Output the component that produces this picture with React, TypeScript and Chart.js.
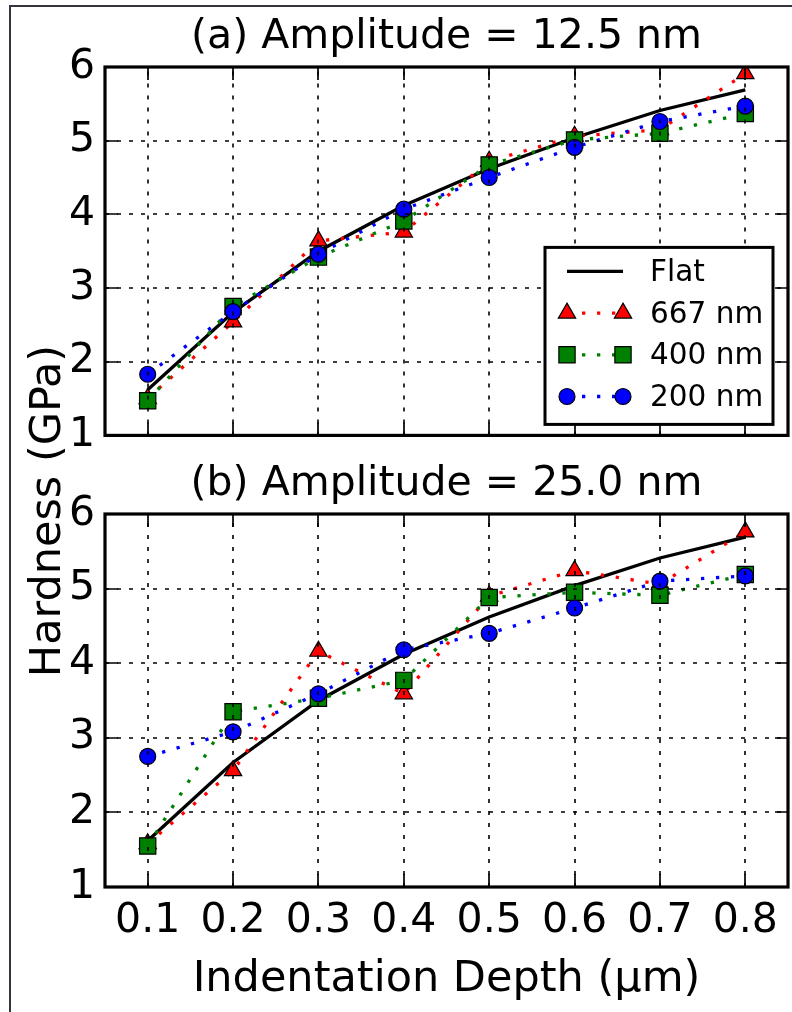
import React, { useEffect, useRef } from 'react';
import { Chart, registerables } from 'chart.js';

Chart.register(...registerables);

// ---------- data ----------
const DEPTHS = [0.1, 0.2, 0.3, 0.4, 0.5, 0.6, 0.7, 0.8];
const X_TICK_LABELS = ['0.1', '0.2', '0.3', '0.4', '0.5', '0.6', '0.7', '0.8'];
const Y_TICKS = [1, 2, 3, 4, 5, 6];
const Y_TICK_LABELS = ['1', '2', '3', '4', '5', '6'];

const SERIES_LABELS = ['Flat', '667 nm', '400 nm', '200 nm'];

const FLAT = [1.62, 2.67, 3.5, 4.12, 4.62, 5.04, 5.41, 5.69];

const A_667 = [1.5, 2.54, 3.64, 3.76, 4.72, 5.06, 5.15, 5.91];
const A_400 = [1.47, 2.75, 3.42, 3.91, 4.67, 5.01, 5.1, 5.37];
const A_200 = [1.83, 2.68, 3.46, 4.07, 4.5, 4.91, 5.26, 5.47];

const B_667 = [1.58, 2.56, 4.16, 3.59, 4.9, 5.24, 5.06, 5.76];
const B_400 = [1.55, 3.35, 3.53, 3.77, 4.88, 4.95, 4.91, 5.19];
const B_200 = [2.75, 3.08, 3.59, 4.18, 4.4, 4.74, 5.1, 5.17];

const TITLE_A = '(a) Amplitude = 12.5 nm';
const TITLE_B = '(b) Amplitude = 25.0 nm';
const X_TITLE = 'Indentation Depth (\u03bcm)';
const Y_TITLE = 'Hardness (GPa)';

const FONT = '"DejaVu Sans", "Liberation Sans", sans-serif';

// ---------- helpers ----------
function drawMarker(ctx: CanvasRenderingContext2D, style: string, x: number, y: number, r: number, fill: string, stroke: string, bw: number) {
  ctx.beginPath();
  if (style === 'circle') {
    ctx.arc(x, y, r, 0, Math.PI * 2);
  } else if (style === 'triangle') {
    for (let k = 0; k < 3; k++) {
      const a = (k * 2 * Math.PI) / 3;
      const px = x + Math.sin(a) * r;
      const py = y - Math.cos(a) * r;
      if (k === 0) ctx.moveTo(px, py);
      else ctx.lineTo(px, py);
    }
    ctx.closePath();
  } else {
    const s = r * Math.SQRT1_2;
    ctx.rect(x - s, y - s, 2 * s, 2 * s);
  }
  ctx.fillStyle = fill;
  ctx.fill();
  ctx.lineWidth = bw;
  ctx.strokeStyle = stroke;
  ctx.stroke();
}

const mplAxesPlugin = {
  id: 'mplAxes',
  afterDatasetsDraw(chart: any) {
    const { ctx, chartArea } = chart;
    const { left, right, top, bottom } = chartArea;
    const xs = chart.scales.x;
    const ys = chart.scales.y;
    ctx.save();
    // dotted grid (drawn above data, like matplotlib classic)
    ctx.strokeStyle = '#000';
    ctx.lineWidth = 1.6;
    ctx.setLineDash([4, 8]);
    xs.ticks.forEach((t: any) => {
      const px = Math.round(xs.getPixelForValue(t.value));
      ctx.beginPath();
      ctx.moveTo(px, bottom);
      ctx.lineTo(px, top);
      ctx.stroke();
    });
    ys.ticks.forEach((t: any) => {
      const py = Math.round(ys.getPixelForValue(t.value));
      ctx.beginPath();
      ctx.moveTo(left, py);
      ctx.lineTo(right, py);
      ctx.stroke();
    });
    ctx.setLineDash([]);
    // inward tick marks on all sides
    const TL = 13;
    ctx.lineWidth = 1.7;
    xs.ticks.forEach((t: any) => {
      const px = Math.round(xs.getPixelForValue(t.value));
      ctx.beginPath();
      ctx.moveTo(px, bottom);
      ctx.lineTo(px, bottom - TL);
      ctx.moveTo(px, top);
      ctx.lineTo(px, top + TL);
      ctx.stroke();
    });
    ys.ticks.forEach((t: any) => {
      const py = Math.round(ys.getPixelForValue(t.value));
      ctx.beginPath();
      ctx.moveTo(left, py);
      ctx.lineTo(left + TL, py);
      ctx.moveTo(right, py);
      ctx.lineTo(right - TL, py);
      ctx.stroke();
    });
    // frame
    ctx.lineWidth = 3.2;
    ctx.strokeRect(left, top, right - left, bottom - top);
    ctx.restore();
  },
};

const mplLegendPlugin = {
  id: 'mplLegend',
  afterDraw(chart: any) {
    const { ctx, chartArea } = chart;
    const w = 228;
    const h = 177;
    const bx = chartArea.right - 15 - w;
    const by = chartArea.bottom - 11 - h;
    ctx.save();
    ctx.fillStyle = '#fff';
    ctx.fillRect(bx, by, w, h);
    ctx.lineWidth = 3;
    ctx.strokeStyle = '#000';
    ctx.strokeRect(bx, by, w, h);
    chart.data.datasets.forEach((ds: any, i: number) => {
      const y = by + 24 + i * 41.7;
      const x1 = bx + 22;
      const x2 = bx + 78;
      ctx.setLineDash(ds.borderDash || []);
      ctx.lineWidth = ds.borderWidth;
      ctx.strokeStyle = ds.borderColor;
      ctx.lineCap = 'butt';
      ctx.beginPath();
      ctx.moveTo(x1, y);
      ctx.lineTo(x2, y);
      ctx.stroke();
      ctx.setLineDash([]);
      if (ds.pointRadius > 0) {
        drawMarker(ctx, ds.pointStyle, x1, y, ds.pointRadius, ds.pointBackgroundColor, ds.pointBorderColor, ds.pointBorderWidth);
        drawMarker(ctx, ds.pointStyle, x2, y, ds.pointRadius, ds.pointBackgroundColor, ds.pointBorderColor, ds.pointBorderWidth);
      }
      ctx.fillStyle = '#000';
      ctx.font = `29.5px ${FONT}`;
      ctx.textBaseline = 'middle';
      ctx.textAlign = 'left';
      ctx.fillText(ds.label, bx + 105, y + 2);
    });
    ctx.restore();
  },
};

function makeDatasets(s667: number[], s400: number[], s200: number[]) {
  const pts = (arr: number[]) => arr.map((v, i) => ({ x: DEPTHS[i], y: v }));
  const dotted = [3.3, 11.7];
  return [
    {
      label: SERIES_LABELS[0],
      data: pts(FLAT),
      borderColor: '#000000',
      borderWidth: 3.3,
      pointRadius: 0,
      order: 4,
    },
    {
      label: SERIES_LABELS[1],
      data: pts(s667),
      borderColor: '#ff0000',
      borderWidth: 3.3,
      borderDash: dotted,
      pointStyle: 'triangle',
      pointRadius: 10,
      pointBackgroundColor: '#ff0000',
      pointBorderColor: '#000000',
      pointBorderWidth: 1.2,
      order: 3,
    },
    {
      label: SERIES_LABELS[2],
      data: pts(s400),
      borderColor: '#008000',
      borderWidth: 3.3,
      borderDash: dotted,
      pointStyle: 'rect',
      pointRadius: 11.5,
      pointBackgroundColor: '#008000',
      pointBorderColor: '#000000',
      pointBorderWidth: 1.2,
      order: 2,
    },
    {
      label: SERIES_LABELS[3],
      data: pts(s200),
      borderColor: '#0000ff',
      borderWidth: 3.3,
      borderDash: dotted,
      pointStyle: 'circle',
      pointRadius: 8,
      pointBackgroundColor: '#0000ff',
      pointBorderColor: '#000000',
      pointBorderWidth: 1.2,
      order: 1,
    },
  ];
}

function makeConfig(opts: {
  title: string;
  titlePadTop: number;
  datasets: any[];
  xAxisHeight: number;
  showXLabels: boolean;
  legend: boolean;
}): any {
  return {
    type: 'line',
    data: { datasets: opts.datasets },
    options: {
      responsive: false,
      maintainAspectRatio: false,
      devicePixelRatio: 1,
      animation: false,
      events: [],
      layout: { autoPadding: false, padding: { left: 0, right: 4, top: 0, bottom: 0 } },
      elements: { line: { tension: 0 } },
      plugins: {
        legend: { display: false },
        tooltip: { enabled: false },
        title: {
          display: true,
          text: opts.title,
          fullSize: false,
          color: '#000',
          font: { family: FONT, size: 41, weight: 'normal', lineHeight: 1.2 },
          padding: { top: opts.titlePadTop, bottom: 4.7 },
        },
      },
      scales: {
        x: {
          type: 'linear',
          min: 0.05,
          max: 0.85,
          afterBuildTicks: (s: any) => {
            s.ticks = DEPTHS.map((v) => ({ value: v }));
          },
          afterFit: (s: any) => {
            s.height = opts.xAxisHeight;
          },
          grid: { display: false, drawTicks: false },
          border: { display: false },
          ticks: {
            display: opts.showXLabels,
            autoSkip: false,
            maxRotation: 0,
            minRotation: 0,
            padding: 10,
            color: '#000',
            font: { family: FONT, size: 41 },
            callback: (_v: any, i: number) => X_TICK_LABELS[i],
          },
          title: {
            display: opts.showXLabels,
            text: X_TITLE,
            color: '#000',
            font: { family: FONT, size: 43 },
            padding: { top: 0, bottom: 6 },
          },
        },
        y: {
          type: 'linear',
          min: 1,
          max: 6,
          afterBuildTicks: (s: any) => {
            s.ticks = Y_TICKS.map((v) => ({ value: v }));
          },
          afterFit: (s: any) => {
            s.width = 105;
          },
          grid: { display: false, drawTicks: false },
          border: { display: false },
          ticks: {
            padding: 10,
            color: '#000',
            font: { family: FONT, size: 41 },
            callback: (_v: any, i: number) => Y_TICK_LABELS[i],
          },
        },
      },
    },
    plugins: opts.legend ? [mplAxesPlugin, mplLegendPlugin] : [mplAxesPlugin],
  };
}

export default function App() {
  const topRef = useRef<HTMLCanvasElement | null>(null);
  const botRef = useRef<HTMLCanvasElement | null>(null);

  useEffect(() => {
    const top = new Chart(
      topRef.current as HTMLCanvasElement,
      makeConfig({
        title: TITLE_A,
        titlePadTop: 13.1,
        datasets: makeDatasets(A_667, A_400, A_200),
        xAxisHeight: 32,
        showXLabels: false,
        legend: true,
      })
    );
    const bot = new Chart(
      botRef.current as HTMLCanvasElement,
      makeConfig({
        title: TITLE_B,
        titlePadTop: 10.1,
        datasets: makeDatasets(B_667, B_400, B_200),
        xAxisHeight: 125,
        showXLabels: true,
        legend: false,
      })
    );
    return () => {
      top.destroy();
      bot.destroy();
    };
  }, []);

  return (
    <div
      style={{
        position: 'fixed',
        left: 0,
        top: 0,
        width: 792,
        height: 1012,
        background: '#fff',
        overflow: 'hidden',
      }}
    >
      <div
        style={{
          position: 'absolute',
          left: 9,
          top: 5,
          width: 1000,
          height: 1100,
          borderTop: '2px solid #34343e',
          borderLeft: '2px solid #34343e',
        }}
      />
      <canvas
        ref={topRef}
        width={792}
        height={470}
        style={{ position: 'absolute', left: 0, top: 0, width: 792, height: 470 }}
      />
      <canvas
        ref={botRef}
        width={792}
        height={562}
        style={{ position: 'absolute', left: 0, top: 450, width: 792, height: 562 }}
      />
      <div
        style={{
          position: 'absolute',
          left: 45 - 300,
          top: 511 - 30,
          width: 600,
          height: 60,
          lineHeight: '60px',
          textAlign: 'center',
          fontFamily: FONT,
          fontSize: 43,
          color: '#000',
          whiteSpace: 'nowrap',
          transform: 'rotate(-90deg)',
        }}
      >
        {Y_TITLE}
      </div>
    </div>
  );
}
